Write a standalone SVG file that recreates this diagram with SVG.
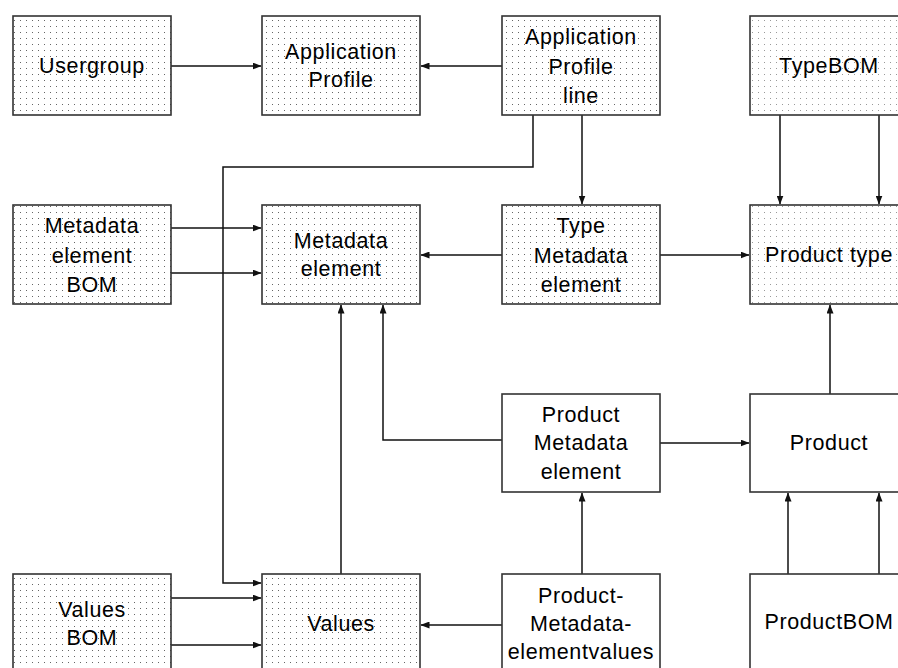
<svg xmlns="http://www.w3.org/2000/svg" width="898" height="668" viewBox="0 0 898 668">
  <style>
    .box { stroke: #333; stroke-width: 1.6; }
    .dot { fill: url(#dots); }
    .dot-light { fill: url(#dots-light); }
    .plain { fill: #fff; }
    .lbl { font-family: "Liberation Sans", Arial, sans-serif; font-size: 21.5px; letter-spacing: 0.6px; fill: #000; text-anchor: middle; dominant-baseline: central; }
    .wire { fill: none; stroke: #111; stroke-width: 1.5; marker-end: url(#arrow); }
  </style>
  <defs>
    <pattern id="dots" width="6" height="6" patternUnits="userSpaceOnUse">
      <rect width="6" height="6" fill="#fff"/>
      <rect x="2" y="2" width="1" height="1" fill="#666"/>
    </pattern>
    <pattern id="dots-light" width="6" height="6" patternUnits="userSpaceOnUse">
      <rect width="6" height="6" fill="#fff"/>
      <rect x="2" y="2" width="1" height="1" fill="#999"/>
    </pattern>
    <marker id="arrow" markerWidth="9" markerHeight="7" refX="8.5" refY="3.5" orient="auto" markerUnits="userSpaceOnUse">
      <path d="M0,0 L9,3.5 L0,7 z" fill="#111"/>
    </marker>
  </defs>

  <rect width="898" height="668" fill="#fff"/>

  <!-- connectors: every line ends in an arrowhead at the target box -->
  <g id="connectors">
    <path class="wire" d="M171,66 H261"/>
    <path class="wire" d="M502,66 H421"/>
    <path class="wire" d="M582,115 V204"/>
    <path class="wire" d="M533,115 V167 H223 V583 H261"/>
    <path class="wire" d="M780,115 V204"/>
    <path class="wire" d="M879,115 V204"/>
    <path class="wire" d="M171,228 H261"/>
    <path class="wire" d="M171,273 H261"/>
    <path class="wire" d="M502,255 H421"/>
    <path class="wire" d="M660,255 H749"/>
    <path class="wire" d="M341,574 V305"/>
    <path class="wire" d="M502,440 H383 V305"/>
    <path class="wire" d="M660,443 H749"/>
    <path class="wire" d="M830,394 V305"/>
    <path class="wire" d="M582,574 V493"/>
    <path class="wire" d="M502,625 H421"/>
    <path class="wire" d="M171,598 H261"/>
    <path class="wire" d="M171,645 H261"/>
    <path class="wire" d="M788,574 V493"/>
    <path class="wire" d="M879,574 V493"/>
  </g>

  <g id="usergroup">
    <rect class="box dot" x="13" y="16" width="158" height="99"/>
    <text class="lbl" x="92" y="66">Usergroup</text>
  </g>
  <g id="application-profile">
    <rect class="box dot" x="262" y="16" width="158" height="99"/>
    <text class="lbl" x="341" y="52">Application</text>
    <text class="lbl" x="341" y="80">Profile</text>
  </g>
  <g id="application-profile-line">
    <rect class="box dot" x="502" y="16" width="158" height="99"/>
    <text class="lbl" x="581" y="37">Application</text>
    <text class="lbl" x="581" y="67">Profile</text>
    <text class="lbl" x="581" y="96">line</text>
  </g>
  <g id="typebom">
    <rect class="box dot-light" x="750" y="16" width="160" height="99"/>
    <text class="lbl" x="829" y="66">TypeBOM</text>
  </g>

  <g id="metadata-element-bom">
    <rect class="box dot" x="13" y="205" width="158" height="99"/>
    <text class="lbl" x="92" y="226">Metadata</text>
    <text class="lbl" x="92" y="256">element</text>
    <text class="lbl" x="92" y="285">BOM</text>
  </g>
  <g id="metadata-element">
    <rect class="box dot" x="262" y="205" width="158" height="99"/>
    <text class="lbl" x="341" y="241">Metadata</text>
    <text class="lbl" x="341" y="269">element</text>
  </g>
  <g id="type-metadata-element">
    <rect class="box dot" x="502" y="205" width="158" height="99"/>
    <text class="lbl" x="581" y="226">Type</text>
    <text class="lbl" x="581" y="256">Metadata</text>
    <text class="lbl" x="581" y="285">element</text>
  </g>
  <g id="product-type">
    <rect class="box dot-light" x="750" y="205" width="160" height="99"/>
    <text class="lbl" x="829" y="255">Product type</text>
  </g>

  <g id="product-metadata-element">
    <rect class="box plain" x="502" y="394" width="158" height="98"/>
    <text class="lbl" x="581" y="415">Product</text>
    <text class="lbl" x="581" y="443">Metadata</text>
    <text class="lbl" x="581" y="472">element</text>
  </g>
  <g id="product">
    <rect class="box plain" x="750" y="394" width="160" height="98"/>
    <text class="lbl" x="829" y="443">Product</text>
  </g>

  <g id="values-bom">
    <rect class="box dot" x="13" y="574" width="158" height="100"/>
    <text class="lbl" x="92" y="610">Values</text>
    <text class="lbl" x="92" y="638">BOM</text>
  </g>
  <g id="values">
    <rect class="box dot" x="262" y="574" width="158" height="100"/>
    <text class="lbl" x="341" y="624">Values</text>
  </g>
  <g id="product-metadata-elementvalues">
    <rect class="box plain" x="502" y="574" width="158" height="100"/>
    <text class="lbl" x="581" y="596">Product-</text>
    <text class="lbl" x="581" y="624">Metadata-</text>
    <text class="lbl" x="581" y="652">elementvalues</text>
  </g>
  <g id="productbom">
    <rect class="box plain" x="750" y="574" width="160" height="100"/>
    <text class="lbl" x="829" y="622">ProductBOM</text>
  </g>
</svg>
